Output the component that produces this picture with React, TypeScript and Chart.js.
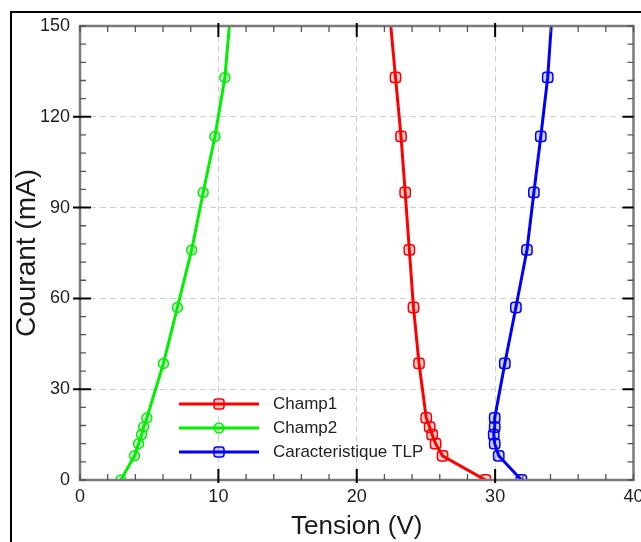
import React, { useEffect, useRef } from "react";
import { Chart, registerables } from "chart.js";

Chart.register(...registerables);

// Current levels (mA) shared by the three curves; the last one lies above the plot (line continues to the top edge)
const currentLevels = [0, 8, 12, 15, 17.5, 20.5, 38.5, 57, 76, 95, 113.5, 133, 153];
// Voltages (V)
const champ1Voltage = [29.3, 26.2, 25.7, 25.45, 25.27, 25.02, 24.5, 24.1, 23.8, 23.5, 23.2, 22.8, 22.4];
const champ2Voltage = [2.95, 3.94, 4.23, 4.45, 4.6, 4.83, 6.03, 7.04, 8.07, 8.9, 9.75, 10.47, 10.85];
const tlpVoltage = [31.9, 30.26, 29.97, 29.9, 29.97, 29.97, 30.7, 31.5, 32.3, 32.8, 33.3, 33.8, 34.1];

const seriesNames = ["Champ1", "Champ2", "Caracteristique TLP"];
const seriesColors = ["#ff0000", "#00f000", "#0000ff"];
const seriesFills = ["rgba(255,0,0,0.18)", "rgba(0,240,0,0.18)", "rgba(0,0,255,0.18)"];
const seriesMarkers = ["rectRounded", "circle", "rectRounded"];

const xTickValues = [0, 10, 20, 30, 40];
const yTickValues = [0, 30, 60, 90, 120, 150];

const FONT = "'Liberation Sans', Arial, Helvetica, sans-serif";

const toPoints = (xs: number[]) => xs.map((v, i) => ({ x: v, y: currentLevels[i] }));

const decorPlugin = {
  id: "decor",
  afterDatasetsDraw(chart: any) {
    const { ctx, chartArea, scales } = chart;
    const { left, right, top, bottom } = chartArea;
    const xs = scales.x;
    const ys = scales.y;
    ctx.save();
    // plot frame
    ctx.strokeStyle = "#7a7a7a";
    ctx.lineWidth = 2.5;
    ctx.strokeRect(left, top, right - left, bottom - top);
    // ticks on the four sides
    for (let v = 0; v <= 40; v += 2) {
      const px = xs.getPixelForValue(v);
      const major = v % 10 === 0 && v !== 0 && v !== 40;
      ctx.strokeStyle = major ? "#000" : "#555";
      ctx.lineWidth = major ? 2 : 1.3;
      const inL = major ? 11 : 6;
      const outL = major ? 3 : 0;
      ctx.beginPath();
      ctx.moveTo(px, bottom + outL);
      ctx.lineTo(px, bottom - inL);
      ctx.moveTo(px, top - outL);
      ctx.lineTo(px, top + inL);
      ctx.stroke();
    }
    for (let v = 0; v <= 150; v += 6) {
      const py = ys.getPixelForValue(v);
      const major = v % 30 === 0 && v !== 0 && v !== 150;
      ctx.strokeStyle = major ? "#000" : "#555";
      ctx.lineWidth = major ? 2 : 1.3;
      const inL = major ? 11 : 6;
      const outL = major ? 7 : 0;
      ctx.beginPath();
      ctx.moveTo(left - outL, py);
      ctx.lineTo(left + inL, py);
      ctx.moveTo(right, py);
      ctx.lineTo(right - inL, py);
      ctx.stroke();
    }
    // legend inside the plot
    const lx0 = left + 99;
    const lx1 = left + 179;
    const baseY = bottom - 76;
    chart.data.datasets.forEach((ds: any, i: number) => {
      const y = baseY + i * 24;
      ctx.strokeStyle = ds.borderColor;
      ctx.lineWidth = 3;
      ctx.beginPath();
      ctx.moveTo(lx0, y);
      ctx.lineTo(lx1, y);
      ctx.stroke();
      ctx.fillStyle = ds.pointBackgroundColor;
      ctx.strokeStyle = ds.borderColor;
      ctx.lineWidth = 1.5;
      const mx = (lx0 + lx1) / 2;
      ctx.beginPath();
      if (ds.pointStyle === "circle") {
        ctx.arc(mx, y, 5, 0, Math.PI * 2);
      } else {
        ctx.roundRect(mx - 5, y - 5, 10, 10, 2.5);
      }
      ctx.fill();
      ctx.stroke();
      ctx.fillStyle = "#222";
      ctx.font = `17px ${FONT}`;
      ctx.textAlign = "left";
      ctx.textBaseline = "middle";
      ctx.fillText(ds.label, lx1 + 14, y);
    });
    ctx.restore();
  },
  afterDraw(chart: any) {
    const { ctx, width, height } = chart;
    ctx.save();
    ctx.strokeStyle = "#000";
    ctx.lineWidth = 2;
    ctx.beginPath();
    ctx.moveTo(11, height);
    ctx.lineTo(11, 12);
    ctx.lineTo(width, 12);
    ctx.stroke();
    ctx.restore();
  },
};

export default function App() {
  const canvasRef = useRef<HTMLCanvasElement | null>(null);

  useEffect(() => {
    if (!canvasRef.current) return;
    const voltages = [champ1Voltage, champ2Voltage, tlpVoltage];
    const chart = new Chart(canvasRef.current, {
      type: "line",
      data: {
        datasets: voltages.map((vals, i) => ({
          label: seriesNames[i],
          data: toPoints(vals),
          borderColor: seriesColors[i],
          backgroundColor: seriesFills[i],
          pointBackgroundColor: seriesFills[i],
          pointBorderColor: seriesColors[i],
          pointBorderWidth: 1.5,
          pointStyle: seriesMarkers[i] as any,
          pointRadius: (c: any) => (c.raw && c.raw.y > 150 ? 0 : seriesMarkers[i] === "circle" ? 5 : 6),
          borderWidth: 3,
          tension: 0,
          fill: false,
        })),
      },
      options: {
        animation: false,
        responsive: false,
        devicePixelRatio: 1,
        parsing: false as any,
        layout: { padding: { left: 0, top: 26, right: 2, bottom: 0 } },
        plugins: {
          legend: { display: false },
          tooltip: { enabled: false },
        },
        scales: {
          x: {
            type: "linear",
            min: 0,
            max: 40,
            afterBuildTicks: (s: any) => {
              s.ticks = xTickValues.map((v) => ({ value: v }));
            },
            afterFit: (s: any) => {
              s.height = 62;
              s.paddingLeft = 0;
              s.paddingRight = 0;
            },
            ticks: {
              color: "#1e1e1e",
              font: { family: FONT, size: 18 },
              padding: 6,
              maxRotation: 0,
            },
            grid: { color: "#cfcfcf", lineWidth: 1, drawTicks: false },
            border: { display: false, dash: [6, 4] },
            title: {
              display: true,
              text: "Tension (V)",
              color: "#1a1a1a",
              font: { family: FONT, size: 26, lineHeight: 1 },
              padding: { top: 0, bottom: 2 },
            },
          },
          y: {
            type: "linear",
            min: 0,
            max: 150,
            afterBuildTicks: (s: any) => {
              s.ticks = yTickValues.map((v) => ({ value: v }));
            },
            afterFit: (s: any) => {
              s.width = 80;
              s.paddingTop = 0;
              s.paddingBottom = 0;
            },
            ticks: {
              color: "#1e1e1e",
              font: { family: FONT, size: 18 },
              padding: 10,
            },
            grid: { color: "#cfcfcf", lineWidth: 1, drawTicks: false },
            border: { display: false, dash: [6, 4] },
            title: {
              display: true,
              text: "Courant (mA)",
              color: "#1a1a1a",
              font: { family: FONT, size: 28, lineHeight: 1 },
              padding: { top: 13, bottom: 0 },
            },
          },
        },
      },
      plugins: [decorPlugin],
    });
    return () => chart.destroy();
  }, []);

  return (
    <div style={{ position: "fixed", left: 0, top: 0, width: 641, height: 542, background: "#fff" }}>
      <canvas ref={canvasRef} width={641} height={542} style={{ display: "block" }} />
    </div>
  );
}
